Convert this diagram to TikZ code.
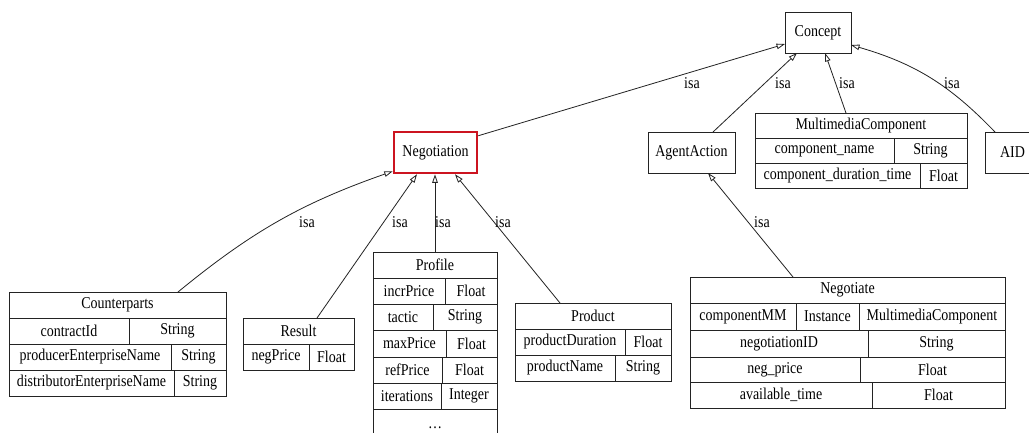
\documentclass[tikz,border=0pt]{standalone}
\usepackage{graphicx}
\usepackage{fontspec}
\setmainfont{Liberation Serif}
\usetikzlibrary{arrows.meta}
\definecolor{ink}{RGB}{35,35,35}
\definecolor{negred}{RGB}{204,20,32}
\tikzset{
  cellbox/.style={draw=ink, line width=0.9pt, inner sep=0pt, outer sep=0pt,
    font=\fontsize{14}{16}\selectfont},
  isa/.style={draw=ink, line width=0.8pt,
    -{Triangle[open, length=8.5pt, width=5.5pt]}},
  isalabel/.style={font=\fontsize{14}{16}\selectfont, inner sep=0pt},
}
% slightly tall lettering
\newcommand\tall[1]{\scalebox{1}[1.18]{#1}}
% one record cell: name, left, top, right, bottom (pt, y downwards), text
\newcommand\cell[6]{\node[cellbox, minimum width={(#4-#2)*1pt},
  minimum height={(#5-#3)*1pt}] (#1) at ({(#2+#4)/2},{-(#3+#5)/2}) {\tall{#6}};}
\begin{document}
\begin{tikzpicture}[x=1pt, y=1pt]
\path[use as bounding box, clip] (0,0) rectangle (1029,-432);
\fill[white] (0,0) rectangle (1029,-432);

% plain classes
\cell{concept}{785}{12}{851}{53}{Concept}
\cell{agentaction}{648}{132}{735}{173}{AgentAction}
\cell{aid}{985}{132}{1040}{173}{AID}
\node[draw=negred, line width=2.5pt, minimum width=83pt, minimum height=41pt,
  inner sep=0pt, font=\fontsize{14}{16}\selectfont]
  (negotiation) at (435.5,-152.5) {\tall{Negotiation}};

% MultimediaComponent
\cell{multimedia}{755}{113}{967}{138}{MultimediaComponent}
\cell{mm-a1}{755}{138}{894}{163}{component\_name}
\cell{mm-t1}{894}{138}{967}{163}{String}
\cell{mm-a2}{755}{163}{920}{188}{component\_duration\_time}
\cell{mm-t2}{920}{163}{967}{188}{Float}

% Counterparts
\cell{counterparts}{9}{292}{226}{318}{Counterparts}
\cell{cp-a1}{9}{318}{129}{344}{contractId}
\cell{cp-t1}{129}{318}{226}{344}{String}
\cell{cp-a2}{9}{344}{171}{370}{producerEnterpriseName}
\cell{cp-t2}{171}{344}{226}{370}{String}
\cell{cp-a3}{9}{370}{174}{396}{distributorEnterpriseName}
\cell{cp-t3}{174}{370}{226}{396}{String}

% Result
\cell{result}{243}{318}{354}{344}{Result}
\cell{rs-a1}{243}{344}{309}{370}{negPrice}
\cell{rs-t1}{309}{344}{354}{370}{Float}

% Profile
\cell{profile}{373}{252}{497}{278}{Profile}
\cell{pf-a1}{373}{278}{445}{304}{incrPrice}
\cell{pf-t1}{445}{278}{497}{304}{Float}
\cell{pf-a2}{373}{304}{433}{330}{tactic}
\cell{pf-t2}{433}{304}{497}{330}{String}
\cell{pf-a3}{373}{330}{446}{357}{maxPrice}
\cell{pf-t3}{446}{330}{497}{357}{Float}
\cell{pf-a4}{373}{357}{442}{383}{refPrice}
\cell{pf-t4}{442}{357}{497}{383}{Float}
\cell{pf-a5}{373}{383}{441}{409}{iterations}
\cell{pf-t5}{441}{383}{497}{409}{Integer}
\cell{pf-more}{373}{409}{497}{447}{\dots}

% Product
\cell{product}{515}{303}{671}{329}{Product}
\cell{pd-a1}{515}{329}{625}{355}{productDuration}
\cell{pd-t1}{625}{329}{671}{355}{Float}
\cell{pd-a2}{515}{355}{615}{381}{productName}
\cell{pd-t2}{615}{355}{671}{381}{String}

% Negotiate
\cell{negotiate}{690}{277}{1005}{303}{Negotiate}
\cell{ng-a1}{690}{303}{796}{330}{componentMM}
\cell{ng-k1}{796}{303}{859}{330}{Instance}
\cell{ng-t1}{859}{303}{1005}{330}{MultimediaComponent}
\cell{ng-a2}{690}{330}{868}{357}{negotiationID}
\cell{ng-t2}{868}{330}{1005}{357}{String}
\cell{ng-a3}{690}{357}{860}{382}{neg\_price}
\cell{ng-t3}{860}{357}{1005}{382}{Float}
\cell{ng-a4}{690}{382}{872}{408}{available\_time}
\cell{ng-t4}{872}{382}{1005}{408}{Float}

% isa connectors
\draw[isa] ([yshift=-5pt]negotiation.north east) -- ([yshift=-11.5pt]concept.west);
\draw[isa] ([xshift=21.5pt]agentaction.north) -- ([xshift=-21pt]concept.south);
\draw[isa] ([xshift=-15pt]multimedia.north) -- ([xshift=7pt]concept.south);
\draw[isa] ([xshift=-17.5pt]aid.north) to[bend right=15] ([yshift=-12.5pt]concept.east);
\draw[isa] ([xshift=60.5pt]counterparts.north) to[bend left=10] ([yshift=3pt]negotiation.south west);
\draw[isa] ([xshift=18.5pt]result.north) -- ([xshift=-18.5pt]negotiation.south);
\draw[isa] (profile.north) -- (profile.north |- negotiation.south);
\draw[isa] ([xshift=-33pt]product.north) -- ([xshift=19.5pt]negotiation.south);
\draw[isa] ([xshift=-54.5pt]negotiate.north) -- ([xshift=16.5pt]agentaction.south);

% connector labels
\node[isalabel] (l-neg) at (692,-83) {\tall{isa}};
\node[isalabel] (l-act) at (783,-83) {\tall{isa}};
\node[isalabel] (l-mm) at (847,-83) {\tall{isa}};
\node[isalabel] (l-aid) at (952,-83) {\tall{isa}};
\node[isalabel] (l-cp) at (307,-222) {\tall{isa}};
\node[isalabel] (l-rs) at (400,-222) {\tall{isa}};
\node[isalabel] (l-pf) at (443,-222) {\tall{isa}};
\node[isalabel] (l-pd) at (503,-222) {\tall{isa}};
\node[isalabel] (l-ng) at (762,-222) {\tall{isa}};
\end{tikzpicture}
\end{document}
